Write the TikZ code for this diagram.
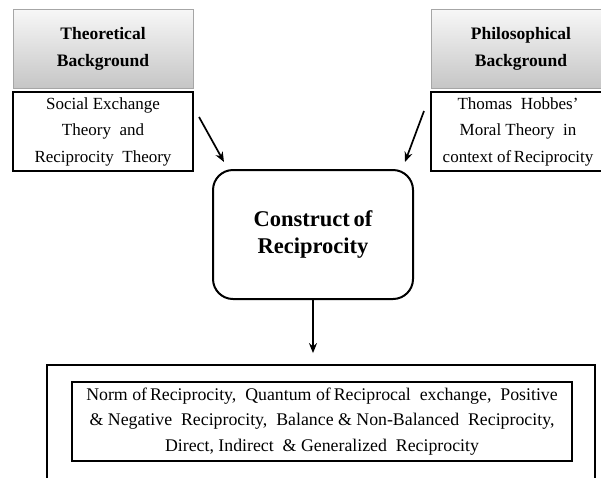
\documentclass[tikz,border=0pt]{standalone}
\usepackage{fontspec}
\setmainfont{Liberation Serif}
\usepackage{tikz}
\usetikzlibrary{arrows.meta,positioning,shapes}

\begin{document}
\begin{tikzpicture}[x = 1pt, y = -1pt,
  headbox/.style = {rectangle, draw = gray!70, line width = 0.6pt, top color = gray!6, bottom color = gray!45, minimum width = 180pt, minimum height = 79pt, inner sep = 0pt, align = center, font = \fontsize{17.5}{27}\selectfont\bfseries},
  textbox/.style = {rectangle, draw = black, line width = 1.8pt, minimum height = 79pt, inner sep = 0pt, align = center, font = \fontsize{17}{26.5}\selectfont},
  arr/.style = {line width = 1.7pt, -{Stealth[length = 10pt, width = 8pt]}}]
\useasboundingbox (0,0) rectangle (601,477);
\node[headbox] (theohead) at (103,48.5) {Theoretical\\Background};
\node[textbox, minimum width = 180pt] (theotext) at (103,131.5) {Social Exchange\\Theory \ and\\Reciprocity \ Theory};
\node[headbox] (philhead) at (521,48.5) {Philosophical\\Background};
\node[textbox, minimum width = 174pt] (philtext) at (518,131.5) {Thomas \ Hobbes'\\Moral Theory \ in\\context of\,Reciprocity};
\node[rectangle, rounded corners = 20pt, draw = black, line width = 2pt, minimum width = 200pt, minimum height = 129pt, align = center, font = \fontsize{22.5}{27}\selectfont\bfseries] (construct) at (313,234.5) {Construct\,of\\Reciprocity};
\node[rectangle, draw = black, line width = 1.8pt, minimum width = 548pt, minimum height = 117pt, inner sep = 0pt] (outer) at (321,423.5) {};
\node[rectangle, draw = black, line width = 1.8pt, minimum width = 500pt, minimum height = 79pt, inner sep = 0pt, align = center, font = \fontsize{17.8}{25.5}\selectfont] (inner) at (322,421.5) {Norm of\,Reciprocity, \ Quantum of\,Reciprocal \ exchange, \ Positive\\\& Negative \ Reciprocity, \ Balance \& Non-Balanced \ Reciprocity,\\Direct, Indirect \ \& Generalized \ Reciprocity};
\coordinate (theoarr) at (199,117);
\coordinate (philarr) at (424,111);
\draw[arr] (theoarr) -- ([shift = {(12,-7)}]construct.north west);
\draw[arr] (philarr) -- ([shift = {(-9,-7)}]construct.north east);
\draw[arr, shorten >= 11pt] (construct.south) -- (construct.south |- outer.north);
\end{tikzpicture}
\end{document}
